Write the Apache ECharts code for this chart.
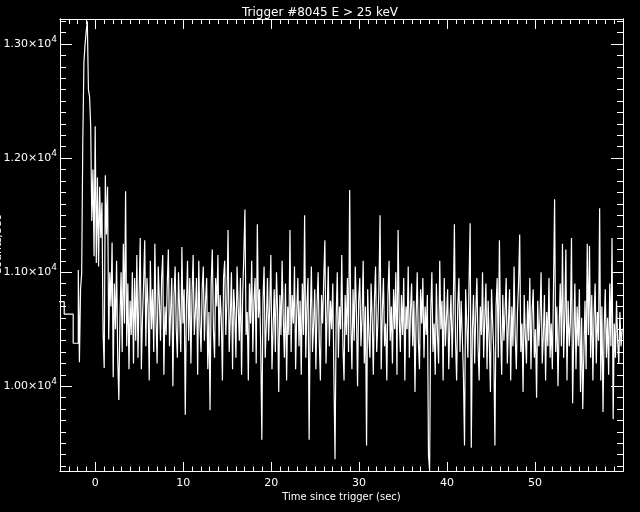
<!DOCTYPE html>
<html>
<head>
<meta charset="utf-8">
<script src="https://cdn.jsdelivr.net/npm/echarts@6/dist/echarts.min.js"></script>
<style>html,body{margin:0;padding:0;background:#000;}#c{width:640px;height:512px;}</style>
</head>
<body>
<div id="c"></div>
<script>
var titleText = 'Trigger #8045 E > 25 keV';
var xName = 'Time since trigger (sec)';
var yName = 'Counts/sec';
var xMin = -4, xMax = 60;
var yMin = 9257, yMax = 13220;
var xTickValues = [0, 10, 20, 30, 40, 50];
var yTickValues = [10000, 11000, 12000, 13000];

// coarse pre-trigger bins (edges and rates)
var preEdges = [-4.5, -3.52, -2.5, -1.92];
var preValues = [10742, 10632, 10377];

// fine bins after -1.92 s
var fineStart = -1.92;
var fineWidth = 0.128;
var fineValues = [
11020,10210,10850,10990,12150,12840,13000,13110,13200,12600,
12540,12280,11450,11900,11140,12280,11080,11830,11050,11750,
11300,11610,10470,10160,11850,11330,11750,10410,11000,10700,
11260,10080,10900,10500,11100,10250,9880,10600,11000,10300,
11250,10550,11710,10350,10900,10150,10750,10450,11000,10200,
10950,10400,11150,10250,10800,11300,10150,10600,10900,11280,
10350,10950,10700,10050,11100,10500,10850,10300,11250,10600,
10200,11050,10750,10400,10950,11150,10100,10700,10450,10900,
11200,10350,10650,10950,10000,10800,11050,10500,10250,11000,
10650,10300,11220,10550,10850,9750,10700,11100,10400,10950,
10200,10800,11150,10450,10650,10950,10100,11100,10550,10300,
10850,11050,10400,10750,10950,10150,10650,9790,10900,11200,
10500,10250,10950,10700,11150,10350,10800,10600,10050,10950,
11100,10450,10750,11370,10300,10600,11000,10150,10850,10650,
10250,11050,10700,10400,10950,10100,10800,11150,11550,10450,
10650,10050,10900,10550,11100,10300,10750,10950,10200,11420,
10600,10850,10350,9530,10750,11050,10250,10550,10950,10400,
10700,11150,10150,10500,10850,10300,11000,10650,9950,10800,
10450,11100,10600,10250,10900,10050,10700,10450,11370,10300,
10800,10550,11050,10150,10650,10950,10350,10750,10100,10900,
10450,11500,10250,10700,10950,9530,10600,11050,10300,10550,
10850,10150,10700,11000,10400,10050,10800,10550,10950,11280,
10200,10650,11050,10350,10750,10500,10900,10100,9360,10600,
11000,10250,10700,10500,11150,10350,10050,10800,10450,10950,
10300,11720,10550,10150,10850,10400,11050,10650,10000,10750,
10950,10350,10600,11100,10200,10700,9480,10850,10450,10250,
10900,10600,10100,10750,11050,10300,10550,10850,11500,10150,
10650,10950,10350,10550,10050,10800,11100,10400,10700,10200,
10850,10500,11000,10100,11370,10600,10300,10800,10450,10950,
10050,10700,10500,11050,10250,10650,10900,10350,10750,9950,
10600,11000,10400,10150,10850,10550,10950,10250,10700,10450,
10800,9400,9260,10650,11000,10300,10550,10100,10900,10450,
10200,11100,10500,10750,10050,10950,10350,10600,10850,10150,
10550,10800,10250,10650,11420,10400,10050,10700,10950,10300,
10750,10450,10100,9480,10850,10550,10250,10900,11430,9460,
10500,10800,10200,10650,10950,10350,10050,10700,10450,11000,
10250,10600,10900,10150,10750,10400,9950,10850,10550,10300,
9480,10700,10950,10250,11280,10500,10100,10800,10400,10650,
10950,10200,10550,10850,10050,10700,10350,11050,10450,10150,
10650,10900,11330,10300,10550,9950,10800,10450,10200,10750,
10400,10950,10150,10650,10850,10250,10500,9900,10750,10350,
10600,11000,10200,10450,10800,10050,10650,10350,10950,10250,
10550,10150,10850,11640,10300,10700,10000,10500,10900,10350,
11250,10250,10600,11200,10050,10750,10350,10550,11300,9850,
10450,10900,10150,10700,10350,10850,9950,10600,9800,10300,
10750,10150,11250,10450,11230,10250,10800,10050,10600,10900,
10200,10650,10400,11560,10050,10700,9775,10500,10850,10250,
10600,10100,10900,10350,11300,9710,10550,10250,10750,10400,
10200,10650,10350,10500
];

var stepData = [];
for (var i = 0; i < preValues.length; i++) {
  stepData.push([preEdges[i], preValues[i]]);
  stepData.push([preEdges[i + 1], preValues[i]]);
}
for (var j = 0; j < fineValues.length; j++) {
  var l = fineStart + j * fineWidth;
  stepData.push([l, fineValues[j]]);
  stepData.push([Math.min(l + fineWidth, xMax + 0.5), fineValues[j]]);
}

var yMinor = [];
for (var v = 9300; v <= 13200; v += 100) yMinor.push(v);

var FONT = 'DejaVu Sans';
var WHITE = '#ffffff';

function xAx(pos, major, len, labels) {
  var a = {
    type: 'value', position: pos, min: xMin, max: xMax, gridIndex: 0,
    splitLine: {show: false},
    axisLine: {show: true, onZero: false, lineStyle: {color: WHITE, width: 1}},
    axisTick: {show: true, inside: true, length: len, lineStyle: {color: WHITE, width: 1}},
    axisLabel: {show: false}
  };
  if (major) {
    a.axisTick.customValues = xTickValues;
    if (labels) {
      a.axisLabel = {show: true, customValues: xTickValues, color: WHITE, fontFamily: FONT, fontSize: 11, margin: 7};
    }
  } else {
    a.interval = 1;
  }
  return a;
}
function yAx(pos, major, len, labels) {
  var a = {
    type: 'value', position: pos, min: yMin, max: yMax, gridIndex: 0,
    splitLine: {show: false},
    axisLine: {show: true, onZero: false, lineStyle: {color: WHITE, width: 1}},
    axisTick: {show: true, inside: true, length: len, lineStyle: {color: WHITE, width: 1},
               customValues: major ? yTickValues : yMinor},
    axisLabel: {show: false}
  };
  if (labels) {
    a.axisLabel = {
      show: true, customValues: yTickValues, margin: 3,
      formatter: function (val) { return '{a|' + (val / 10000).toFixed(2) + '×10}{b|4}'; },
      rich: {
        a: {color: WHITE, fontFamily: FONT, fontSize: 11},
        b: {color: WHITE, fontFamily: FONT, fontSize: 9, padding: [0, 0, 9, 0]}
      }
    };
  }
  return a;
}

var xb = xAx('bottom', true, 9, true);
xb.name = xName;
xb.nameLocation = 'middle';
xb.nameGap = 21;
xb.nameMoveOverlap = false;
xb.nameTextStyle = {color: WHITE, fontFamily: FONT, fontSize: 10};

var chart = echarts.init(document.getElementById('c'), null, {renderer: 'canvas'});
chart.setOption({
  backgroundColor: '#000000',
  animation: false,
  title: {text: titleText, left: 'center', top: 2,
          textStyle: {color: WHITE, fontFamily: FONT, fontSize: 12, fontWeight: 'normal'}},
  grid: {left: 60, top: 19, right: 17, bottom: 41, containLabel: false, outerBoundsMode: 'none'},
  xAxis: [xAx('bottom', false, 4.5, false), xb, xAx('top', false, 5, false), xAx('top', true, 10, false)],
  yAxis: [yAx('left', false, 6, false), yAx('left', true, 12, true), yAx('right', false, 6, false), yAx('right', true, 12, false)],
  graphic: [{
    type: 'text', x: -2, y: 245, rotation: Math.PI / 2, silent: true,
    style: {text: yName, fill: WHITE, font: '11px "DejaVu Sans"', textAlign: 'center', textVerticalAlign: 'middle'}
  }],
  series: [{
    type: 'line', xAxisIndex: 0, yAxisIndex: 0, data: stepData,
    showSymbol: false, symbol: 'none', clip: true,
    lineStyle: {color: WHITE, width: 1.2}
  }]
});
</script>
</body>
</html>
